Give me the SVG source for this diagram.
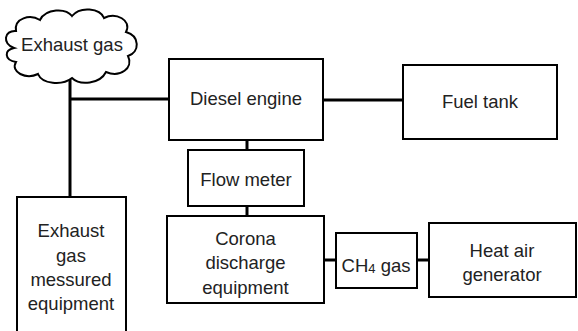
<svg xmlns="http://www.w3.org/2000/svg" width="578" height="331" viewBox="0 0 578 331">
<style>
.box{fill:#fff;stroke:#000;stroke-width:2}
.conn{stroke:#000;stroke-width:3;fill:none}
text{font-family:"Liberation Sans",Arial,sans-serif;font-size:18.5px;fill:#222;text-anchor:middle;dominant-baseline:central}
</style>
<rect width="578" height="331" fill="#fff"/>
<g id="connectors">
<line class="conn" x1="70" y1="78" x2="70" y2="197"/>
<line class="conn" x1="70" y1="99" x2="169" y2="99"/>
<line class="conn" x1="323" y1="100" x2="403" y2="100"/>
<line class="conn" x1="247" y1="140" x2="247" y2="150"/>
<line class="conn" x1="247" y1="206" x2="247" y2="216"/>
<line class="conn" x1="324" y1="260" x2="336" y2="260"/>
<line class="conn" x1="417" y1="260" x2="429" y2="260"/>
</g>
<g id="exhaust-gas">
<path class="box" stroke-width="1.5" d="M14,48 C2,44 4,30 16,31 C14,18 30,14 40,20 C46,8 66,8 72,16 C80,6 100,8 104,18 C116,12 132,20 126,32 C140,36 140,52 128,56 C134,68 120,78 106,72 C100,84 80,86 72,78 C62,86 42,84 38,74 C26,80 10,72 16,62 C4,60 4,50 14,48 Z"/>
<text x="72" y="44">Exhaust gas</text>
</g>
<g id="diesel-engine">
<rect class="box" x="169" y="59" width="154" height="81"/>
<text x="246" y="98">Diesel engine</text>
</g>
<g id="fuel-tank">
<rect class="box" x="403" y="65" width="154" height="74"/>
<text x="480" y="101">Fuel tank</text>
</g>
<g id="flow-meter">
<rect class="box" x="188" y="150" width="116" height="56"/>
<text x="246" y="179">Flow meter</text>
</g>
<g id="exhaust-measured">
<rect class="box" x="17" y="197" width="109" height="140"/>
<text x="71" y="230">Exhaust</text>
<text x="71" y="255">gas</text>
<text x="71" y="279">messured</text>
<text x="71" y="303">equipment</text>
</g>
<g id="corona">
<rect class="box" x="167" y="216" width="157" height="87"/>
<text x="245.5" y="238">Corona</text>
<text x="245.5" y="262">discharge</text>
<text x="245.5" y="287">equipment</text>
</g>
<g id="ch4-gas">
<rect class="box" x="336" y="233" width="81" height="55"/>
<text x="376" y="265">CH<tspan font-size="13" dy="3">4</tspan><tspan dy="-3"> gas</tspan></text>
</g>
<g id="heat-air">
<rect class="box" x="429" y="223" width="147" height="74"/>
<text x="502" y="250">Heat air</text>
<text x="502" y="274">generator</text>
</g>
</svg>
